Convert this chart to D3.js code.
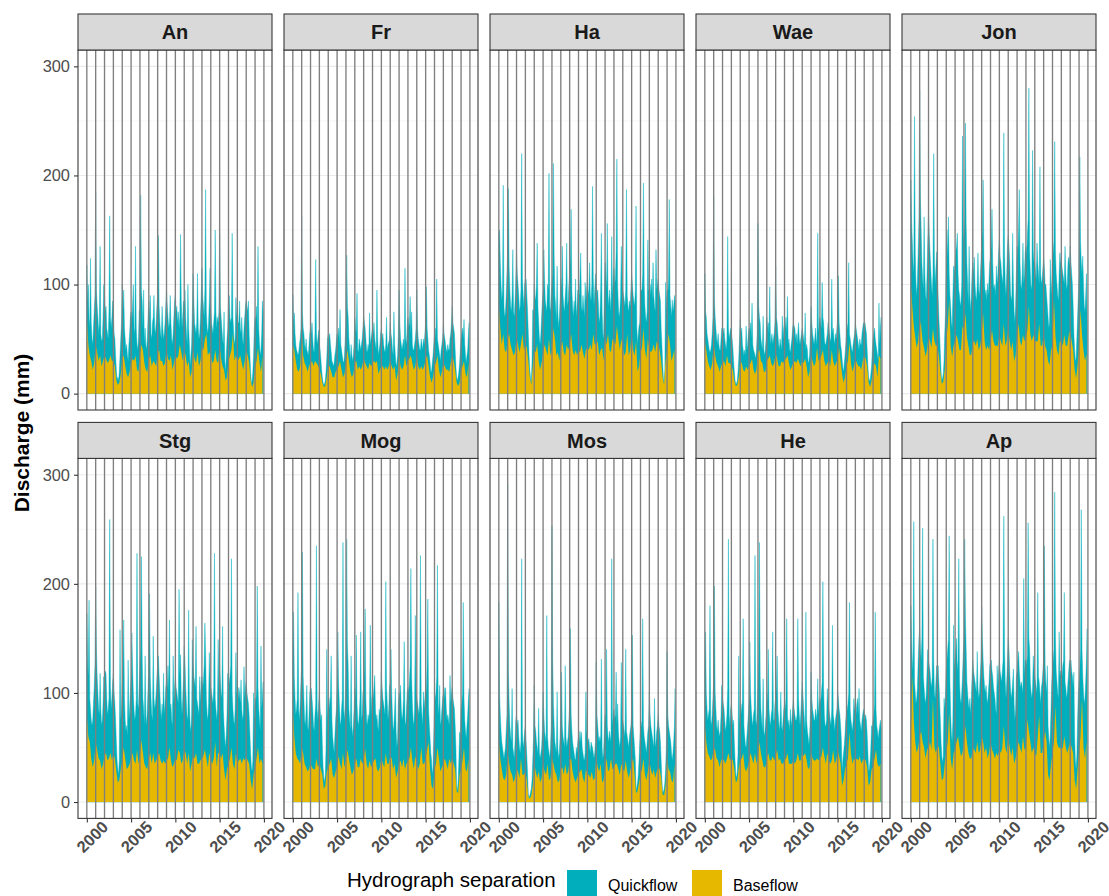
<!DOCTYPE html>
<html>
<head>
<meta charset="utf-8">
<script src="https://cdn.jsdelivr.net/npm/d3@7"></script>
<style>
  body { margin: 0; background: #fff; }
  svg { display: block; font-family: "Liberation Sans", Arial, Helvetica, sans-serif; }
</style>
</head>
<body>
<svg id="chart" width="1109" height="896"></svg>
<script>
// Catchments, in facet order
const sites = ["An", "Fr", "Ha", "Wae", "Jon", "Stg", "Mog", "Mos", "He", "Ap"];
const firstYear = 2000;
const nYears = 20;
const xTicks = [2000, 2005, 2010, 2015, 2020];
const yTicks = [0, 100, 200, 300];
const legendLabels = ["Quickflow", "Baseflow"];

// Monthly total discharge (mm), one row per year Jan..Dec, 2000-2019
const anDischarge = [
118,85,100,70,60,124,65,50,45,60,75,90,
185,95,80,70,55,65,135,55,48,50,70,100,
90,75,80,60,55,50,75,163,70,60,70,85,
70,55,50,35,22,12,15,12,20,35,50,65,
100,75,95,60,50,40,45,35,30,45,55,70,
75,65,80,100,60,55,135,60,45,40,50,75,
80,182,95,85,60,95,45,60,45,40,50,70,
85,70,90,55,50,65,70,90,60,55,65,80,
90,145,80,65,55,50,80,60,50,55,65,80,
95,80,70,60,65,90,65,50,45,55,70,85,
90,75,80,65,75,60,70,146,85,60,70,85,
80,95,70,55,45,100,60,45,25,35,45,75,
110,85,65,60,55,65,110,60,50,55,70,90,
115,90,80,70,95,187,75,60,55,65,85,115,
80,65,60,55,65,75,150,75,60,70,65,75,
147,80,70,60,50,45,75,30,20,35,50,60,
85,90,70,65,70,147,70,55,45,50,88,70,
75,65,65,85,60,55,70,50,45,60,70,80,
85,80,75,85,55,35,20,9,12,20,35,60,
70,65,80,60,135,60,45,35,40,55,85,75];
const frDischarge = [
91,65,74,55,45,40,38,35,38,45,50,60,
163,75,60,55,45,40,50,40,38,35,45,55,
60,55,65,50,40,38,55,123,55,45,50,58,
45,40,32,22,15,10,8,9,12,20,32,50,
54,50,55,45,38,30,28,25,28,35,40,48,
55,50,60,45,77,45,40,35,30,28,35,50,
65,127,80,70,50,40,30,45,35,30,35,45,
70,60,55,92,40,38,50,45,40,45,50,60,
71,65,60,50,40,38,45,40,74,45,50,55,
60,55,65,50,45,40,95,50,35,40,45,55,
60,50,55,45,40,38,45,70,40,45,47,50,
65,55,50,40,35,75,45,35,25,28,35,55,
95,65,50,45,40,45,50,40,115,50,45,60,
70,60,65,89,55,75,45,40,40,45,50,60,
95,60,50,45,40,40,50,45,40,50,45,55,
65,98,60,50,40,35,28,20,20,28,35,45,
55,60,50,105,50,45,40,35,30,40,45,50,
64,55,50,45,40,38,45,40,40,50,55,65,
80,65,60,55,40,25,15,12,15,20,28,40,
50,55,60,50,68,45,35,28,35,40,55,65];
const haDischarge = [
147,150,120,100,85,95,191,80,70,75,90,110,
130,188,115,95,80,75,90,132,75,70,85,105,
129,110,100,90,75,80,95,220,105,90,80,100,
105,105,90,75,55,35,22,14,10,30,77,75,
100,90,85,100,138,80,65,50,45,55,70,85,
95,132,105,85,80,75,100,95,202,80,75,90,
100,110,211,125,90,80,65,117,75,60,70,85,
105,95,135,90,80,75,90,100,138,80,85,100,
110,125,169,95,80,70,85,75,105,70,80,95,
95,90,105,129,80,75,90,80,70,102,85,95,
105,95,90,120,90,85,100,190,105,80,95,110,
100,92,95,80,65,70,95,147,75,55,50,90,
120,110,95,156,90,80,95,85,75,144,90,105,
115,100,105,130,215,100,80,70,75,90,135,105,
95,90,85,80,95,187,90,80,75,85,80,95,
110,100,90,85,80,95,172,60,45,55,62,65,
90,95,95,110,193,100,80,70,65,75,141,95,
95,100,90,105,85,120,90,80,75,132,95,100,
105,95,90,85,60,45,28,14,10,22,102,75,
95,90,105,178,90,80,70,86,75,80,90,83];
const waeDischarge = [
110,75,70,55,50,45,40,38,40,45,55,70,
181,85,70,60,50,45,55,45,40,40,50,60,
60,55,60,50,45,40,50,144,60,50,55,60,
55,50,42,30,20,12,9,9,12,20,32,50,
68,55,60,45,40,35,40,35,62,40,45,55,
60,55,65,50,83,45,40,38,35,32,40,55,
156,80,70,65,50,45,40,71,40,35,40,50,
70,60,65,55,98,45,50,55,45,50,55,65,
117,70,65,55,45,40,50,45,40,71,50,60,
65,60,70,55,89,45,50,40,38,45,50,60,
65,62,60,50,55,45,55,65,50,45,50,55,
60,55,50,45,74,40,45,40,28,30,35,55,
80,65,55,50,45,50,60,50,45,147,55,65,
70,65,60,102,70,65,50,45,45,50,55,65,
60,55,50,48,105,55,60,50,45,55,50,60,
70,108,65,55,45,40,32,24,20,28,35,45,
55,60,65,120,55,50,45,40,38,45,50,55,
65,60,55,50,45,40,50,45,45,55,60,65,
62,65,60,55,40,25,15,12,12,18,25,40,
50,55,60,50,45,40,35,30,83,45,60,70];
const jonDischarge = [
196,160,140,120,110,254,130,100,90,105,130,160,
278,180,150,120,105,95,162,110,90,85,110,140,
165,145,130,115,100,90,110,220,120,100,115,130,
110,90,70,55,38,20,12,14,18,30,55,75,
130,150,125,162,110,90,80,65,60,90,117,110,
120,130,135,147,110,95,90,80,85,100,236,140,
145,160,248,155,120,100,80,135,90,75,90,110,
120,110,125,100,90,85,100,129,95,90,105,120,
135,150,196,125,100,90,95,85,101,90,105,120,
125,135,169,120,100,95,100,90,117,100,110,130,
141,125,120,110,105,100,239,130,100,90,110,135,
145,135,120,95,85,90,147,100,75,65,80,110,
135,125,150,187,120,100,95,110,138,100,110,130,
135,125,145,160,280,130,110,95,100,223,130,120,
120,110,105,138,120,110,100,208,110,100,105,115,
125,115,100,100,90,80,70,60,65,123,90,100,
120,130,140,231,130,110,100,90,85,110,129,120,
120,115,110,105,100,135,110,95,100,120,125,117,
135,120,110,100,80,55,40,30,32,50,70,90,
110,217,140,120,110,126,100,80,75,90,110,60];
const stgDischarge = [
173,130,115,185,95,85,75,70,75,90,105,125,
198,140,115,100,85,80,118,85,70,75,90,115,
110,120,118,95,80,85,95,259,105,85,95,110,
118,100,90,75,55,38,30,25,38,158,75,85,
105,120,167,95,75,65,70,60,130,75,85,100,
115,155,125,100,85,75,80,95,228,90,85,105,
125,140,225,135,95,85,70,134,80,70,85,105,
125,191,115,95,80,75,152,95,85,90,100,115,
125,134,115,100,85,75,90,80,118,80,90,105,
110,105,125,100,167,85,90,75,70,134,90,105,
115,105,100,95,90,195,115,135,95,80,95,115,
143,130,105,90,75,80,176,90,70,65,80,149,
125,115,110,105,161,95,90,85,80,115,90,110,
115,105,110,125,164,135,95,80,75,90,137,110,
105,100,95,90,105,228,95,85,75,85,149,105,
125,110,100,95,161,85,70,58,50,62,80,118,
105,110,115,125,223,100,85,75,70,85,137,100,
100,95,105,100,90,112,85,75,80,124,95,105,
110,100,95,90,79,62,45,32,28,38,100,75,
95,90,105,198,105,85,75,65,143,85,95,110];
const mogDischarge = [
130,174,115,95,80,85,95,192,85,75,90,110,
125,229,115,95,75,70,85,107,70,65,80,100,
105,104,95,85,70,65,80,90,235,85,75,90,
100,85,75,80,52,32,22,18,25,50,140,75,
90,95,85,100,134,75,60,52,45,60,75,85,
105,156,110,90,75,70,85,95,238,85,75,90,
115,241,145,125,85,75,65,134,70,60,70,85,
105,95,153,90,75,70,80,95,156,75,80,100,
105,125,177,95,75,70,80,75,85,162,80,95,
100,95,105,116,85,75,80,70,65,85,80,95,
119,105,95,90,85,80,202,105,90,75,85,105,
110,140,100,80,65,70,85,104,65,50,58,90,
100,95,107,85,75,80,95,147,75,70,85,100,
105,100,110,125,214,115,90,75,70,85,171,100,
95,90,85,80,95,226,90,80,70,101,85,95,
105,100,125,186,85,70,58,45,38,25,32,60,
90,95,100,115,217,90,80,107,70,75,85,95,
100,95,105,104,85,75,80,75,70,116,90,100,
105,95,90,85,70,50,15,10,18,38,64,60,
85,90,100,183,95,75,65,58,70,80,95,104];
const mosDischarge = [
183,100,80,65,55,50,45,40,45,50,65,80,
292,120,90,70,60,55,104,50,45,40,55,75,
80,70,75,60,50,45,55,223,65,50,55,65,
70,55,42,25,7,4,6,9,12,20,38,60,
107,70,65,55,50,45,86,45,40,45,50,65,
101,80,65,60,55,171,60,50,45,40,50,70,
253,130,90,70,55,50,45,101,50,40,45,60,
80,119,70,60,55,50,125,60,50,55,60,75,
90,159,80,65,55,50,45,40,38,50,45,55,
60,55,65,55,64,50,45,40,38,45,101,65,
60,55,58,50,45,55,52,50,45,40,45,55,
128,80,70,60,55,60,55,131,50,40,45,65,
80,75,140,70,60,55,65,60,55,223,70,80,
85,75,80,119,70,90,65,55,50,60,128,75,
75,70,65,60,140,65,60,55,50,60,65,70,
80,153,70,60,50,38,10,14,18,25,38,55,
65,70,75,168,70,60,55,50,45,55,65,70,
101,80,70,65,60,55,50,95,50,55,65,70,
80,70,65,55,38,20,10,9,12,18,30,50,
138,80,70,65,60,55,45,38,45,55,70,104];
const heDischarge = [
120,156,100,85,75,80,85,180,75,70,80,95,
110,198,100,85,70,65,75,65,60,65,80,107,
95,90,85,75,65,70,80,105,241,80,70,85,
90,80,70,75,55,38,25,22,28,45,134,70,
85,90,80,95,168,70,60,52,50,60,70,80,
95,147,100,85,75,70,80,85,226,75,70,85,
105,135,238,115,85,75,65,113,65,60,70,80,
100,90,140,85,75,70,80,85,156,75,75,90,
95,105,134,85,75,65,75,101,70,65,75,85,
90,85,95,168,80,70,75,65,85,70,75,85,
95,85,80,75,75,80,168,95,80,70,80,95,
110,98,85,75,65,174,75,65,60,52,60,80,
119,95,85,80,75,75,85,80,75,113,80,90,
95,90,100,110,202,105,80,70,70,75,104,90,
85,80,75,70,85,162,80,75,65,75,80,85,
101,95,85,80,70,58,28,38,45,52,62,75,
80,85,90,100,183,85,75,70,65,75,95,85,
85,80,90,95,80,104,75,70,65,75,80,85,
80,75,80,75,62,45,28,30,38,50,70,68,
75,80,90,174,85,70,65,58,65,70,75,67];
const apDischarge = [
180,150,130,120,257,110,100,90,95,105,130,150,
160,140,130,150,251,115,105,95,90,100,120,140,
130,125,120,110,105,115,241,130,100,95,110,125,
120,125,110,95,75,55,42,36,42,95,85,100,
120,130,140,150,244,110,80,62,55,75,162,120,
130,140,150,120,130,223,110,95,90,100,115,135,
150,241,170,140,110,100,90,85,95,80,95,115,
130,120,115,110,105,100,138,105,95,100,115,130,
180,150,130,115,105,100,107,95,90,100,110,125,
128,130,120,115,105,100,95,85,80,125,105,120,
130,120,115,110,120,130,262,140,110,95,110,130,
150,140,120,105,95,100,110,122,90,75,85,115,
120,130,138,120,110,105,110,105,100,205,115,130,
130,125,135,256,150,140,110,100,95,105,134,120,
115,110,105,100,192,115,110,100,90,105,110,120,
130,235,125,110,100,125,70,58,50,62,85,110,
120,130,140,284,150,120,110,100,95,156,115,120,
120,115,125,130,192,110,105,95,100,110,120,130,
125,130,120,115,105,119,60,38,30,42,75,100,
110,120,140,268,140,115,100,90,95,110,130,159];

// Bi-monthly baseflow (mm), one row per year: Jan, Mar, May, Jul, Sep, Nov
const anBaseflow = [
68,45,35,30,22,28, 45,38,30,35,25,30, 35,32,28,30,35,30, 30,25,12,8,10,18,
32,35,25,18,15,20, 28,32,30,35,22,20, 35,45,40,28,22,20, 32,35,25,30,28,25,
38,40,30,30,25,28, 40,32,30,35,22,28, 35,32,35,45,38,30, 40,35,25,30,15,20,
40,32,28,38,25,30, 42,40,50,55,35,38, 35,28,30,40,30,28, 45,32,25,22,12,15,
30,35,40,55,30,35, 30,32,35,28,22,30, 40,35,28,12,6,10, 25,30,42,28,20,35];
const frBaseflow = [
45,40,30,22,20,25, 58,35,28,25,20,25, 28,30,25,30,28,26, 22,18,10,6,7,15,
25,25,20,15,15,20, 22,25,30,22,15,18, 28,40,30,20,15,18, 28,30,22,25,22,25,
32,28,25,22,28,25, 28,30,28,30,18,22, 25,25,22,25,22,25, 30,25,22,25,12,18,
35,25,22,25,35,25, 30,32,35,28,22,25, 35,25,22,25,22,25, 32,35,25,15,10,15,
25,28,35,22,15,20, 28,25,22,22,20,28, 35,30,22,10,7,10, 22,25,30,18,15,28];
const haBaseflow = [
80,60,45,55,40,38, 50,55,45,40,35,38, 50,45,38,45,55,40, 45,42,30,15,8,25,
40,38,45,30,22,28, 38,45,40,35,50,35, 40,60,50,35,38,30, 42,48,38,35,45,40,
45,55,40,35,40,35, 40,38,45,38,32,40, 42,40,45,40,55,45, 45,48,35,40,42,30,
50,45,55,40,38,50, 48,45,62,50,40,50, 42,35,38,55,35,40, 55,40,35,48,20,25,
38,42,60,40,32,50, 40,38,40,45,38,48, 45,40,30,15,8,30, 40,55,45,30,35,40];
const waeBaseflow = [
48,40,30,25,22,28, 45,35,28,25,20,25, 28,30,25,35,28,28, 25,22,12,7,8,15,
30,28,22,20,25,22, 25,28,32,22,18,22, 38,40,30,28,20,20, 30,32,35,28,25,28,
38,32,25,25,30,28, 30,32,35,28,22,25, 28,30,28,32,28,25, 30,28,32,25,15,20,
35,30,25,28,42,30, 32,35,40,30,25,28, 30,25,40,30,25,28, 32,42,30,18,10,15,
25,30,48,28,20,25, 32,28,25,25,22,30, 35,32,25,10,6,12, 22,28,25,15,35,32];
const jonBaseflow = [
100,80,62,52,42,48, 68,62,48,42,34,40, 52,48,42,60,48,44, 44,35,20,9,11,22,
48,62,86,44,34,44, 48,54,48,40,40,62, 58,74,52,44,35,36, 48,48,44,50,40,44,
54,74,48,40,44,40, 48,58,48,44,44,44, 54,48,44,64,44,48, 58,48,40,48,30,35,
52,64,48,44,54,48, 52,58,80,54,48,54, 48,48,48,64,44,44, 54,44,40,30,26,40,
44,86,52,40,35,48, 48,44,54,44,44,54, 58,48,40,22,14,26, 44,77,54,40,30,36];
const stgBaseflow = [
79,60,55,40,32,38, 55,48,40,38,30,35, 42,45,38,40,45,38, 45,40,28,18,20,30,
38,50,40,30,32,35, 40,45,38,35,48,35, 42,57,45,35,32,30, 40,45,35,45,35,38,
42,45,38,35,38,35, 38,40,50,38,32,35, 40,38,48,45,35,38, 48,45,35,45,28,35,
42,40,45,35,35,38, 40,42,48,40,32,45, 38,35,40,55,32,45, 45,40,45,30,20,30,
35,40,50,35,30,45, 35,38,40,35,40,38, 42,38,35,20,12,25, 32,40,50,35,40,35];
const mogBaseflow = [
83,60,45,40,38,35, 50,45,35,32,28,30, 35,32,30,30,40,32, 35,30,25,12,15,28,
32,35,40,25,22,28, 32,42,35,30,45,32, 38,48,40,32,25,28, 35,40,32,32,40,35,
38,49,35,30,38,32, 35,38,40,30,28,32, 40,35,32,45,35,35, 42,40,30,35,22,28,
35,38,32,40,30,35, 38,40,50,38,30,42, 35,30,35,50,35,35, 40,48,55,30,15,12,
30,35,50,40,28,32, 35,40,35,30,40,35, 40,35,30,10,8,25, 30,38,50,30,28,40];
const mosBaseflow = [
55,40,30,22,20,25, 45,35,28,25,18,22, 30,28,22,40,25,25, 28,20,5,3,6,15,
35,28,22,28,18,22, 35,28,25,35,20,22, 40,35,28,25,18,20, 30,32,25,35,25,28,
38,40,28,22,18,22, 25,28,30,22,18,30, 25,25,22,28,20,22, 40,32,28,35,18,20,
30,40,28,30,40,30, 32,35,35,30,25,35, 30,28,38,28,22,28, 35,40,25,8,10,18,
25,30,40,25,20,28, 38,30,25,30,22,28, 32,30,22,7,6,15, 40,30,28,20,18,35];
const heBaseflow = [
70,55,45,42,38,40, 50,48,40,38,32,38, 40,38,35,40,45,38, 40,38,30,18,20,32,
38,40,45,32,28,32, 38,45,40,35,45,35, 42,55,45,38,32,32, 40,45,38,38,42,38,
42,48,38,40,35,35, 38,40,45,35,35,35, 38,35,38,45,38,38, 45,42,45,38,30,32,
45,40,38,38,40,38, 40,42,50,42,35,45, 38,35,38,48,35,38, 48,42,35,15,20,30,
35,40,64,45,35,40, 38,40,38,42,35,38, 40,38,32,15,18,30, 32,40,48,35,32,35];
const apBaseflow = [
60,116,75,55,45,50, 60,65,55,50,40,48, 50,55,48,95,50,45, 52,50,35,20,22,35,
45,55,82,40,30,45, 48,55,60,50,42,45, 55,70,55,45,40,40, 50,48,45,55,45,48,
61,55,45,50,40,45, 55,48,45,40,45,42, 48,45,50,70,50,45, 60,50,42,50,35,40,
48,55,50,45,60,48, 50,76,65,55,45,50, 45,42,60,79,45,45, 55,65,55,25,20,35,
45,55,88,55,50,50, 48,50,60,50,45,50, 55,50,45,20,12,30, 45,60,95,50,40,55];

const dischargeBySite = {
  An: anDischarge, Fr: frDischarge, Ha: haDischarge, Wae: waeDischarge, Jon: jonDischarge,
  Stg: stgDischarge, Mog: mogDischarge, Mos: mosDischarge, He: heDischarge, Ap: apDischarge
};
const baseflowBySite = {
  An: anBaseflow, Fr: frBaseflow, Ha: haBaseflow, Wae: waeBaseflow, Jon: jonBaseflow,
  Stg: stgBaseflow, Mog: mogBaseflow, Mos: mosBaseflow, He: heBaseflow, Ap: apBaseflow
};

const colors = { Quickflow: "#00AFBB", Baseflow: "#E7B800" };

// ---- layout ----
const panelW = 194, panelH = 360, stripH = 36;
const colLeft = [78, 284, 490, 696, 902];
const rowTop = [14, 422.4];
const tickFont = 16.4;

// time in decimal years; 5% expansion on both axes
const tStart = firstYear, tEnd = firstYear + nYears - 1 / 12;
const xPad = (tEnd - tStart) * 0.05;
const x = d3.scaleLinear().domain([tStart - xPad, tEnd + xPad]).range([0, panelW]);
const yMax = 300;
const y = d3.scaleLinear().domain([-0.05 * yMax, 1.05 * yMax]).range([panelH, 0]);

const svg = d3.select("#chart");
const defs = svg.append("defs");

const areaFromZero = d3.area().x(d => x(d.t)).y0(y(0)).y1(d => y(d.v));
const yearLines = d3.range(firstYear, firstYear + nYears + 1);

sites.forEach((site, i) => {
  const col = i % 5, row = Math.floor(i / 5);
  const left = colLeft[col], top = rowTop[row] + stripH;

  const dis = dischargeBySite[site].map((v, k) => ({ t: firstYear + k / 12, v }));
  const base = baseflowBySite[site].map((v, k) => ({ t: firstYear + k / 6, v }));

  const g = svg.append("g").attr("transform", `translate(${left},${top})`);
  const clipId = "clip-" + site;
  defs.append("clipPath").attr("id", clipId)
    .append("rect").attr("width", panelW).attr("height", panelH);

  // grid
  const grid = g.append("g");
  const minorY = [50, 150, 250];
  grid.selectAll(".gmy").data(minorY).join("line")
    .attr("x1", 0).attr("x2", panelW).attr("y1", d => y(d)).attr("y2", d => y(d))
    .attr("stroke", "#f0f0f0").attr("stroke-width", 0.55);
  grid.selectAll(".gy").data(yTicks).join("line")
    .attr("x1", 0).attr("x2", panelW).attr("y1", d => y(d)).attr("y2", d => y(d))
    .attr("stroke", "#ebebeb").attr("stroke-width", 1.1);

  const plot = g.append("g").attr("clip-path", `url(#${clipId})`);
  // total discharge in teal; the part above baseflow reads as quickflow
  plot.append("path").datum(dis).attr("d", areaFromZero)
    .attr("fill", colors.Quickflow)
    .attr("stroke", colors.Quickflow).attr("stroke-width", 0.7)
    .attr("stroke-opacity", 0.6).attr("stroke-linejoin", "round");
  plot.append("path").datum(base).attr("d", areaFromZero).attr("fill", colors.Baseflow);

  // annual markers
  plot.selectAll(".yl").data(yearLines).join("line")
    .attr("x1", d => x(d)).attr("x2", d => x(d)).attr("y1", 0).attr("y2", panelH)
    .attr("stroke", "#7f7f7f").attr("stroke-width", 1.35);

  // panel border
  g.append("rect").attr("width", panelW).attr("height", panelH)
    .attr("fill", "none").attr("stroke", "#333333").attr("stroke-width", 1.07);

  // strip
  const strip = svg.append("g").attr("transform", `translate(${left},${rowTop[row]})`);
  strip.append("rect").attr("width", panelW).attr("height", stripH)
    .attr("fill", "#d9d9d9").attr("stroke", "#333333").attr("stroke-width", 1.07);
  strip.append("text").attr("x", panelW / 2).attr("y", stripH / 2)
    .attr("dy", "0.36em").attr("text-anchor", "middle")
    .attr("font-size", 20).attr("font-weight", "bold").attr("fill", "#1a1a1a")
    .text(site);

  // y axis on first column
  if (col === 0) {
    const ax = g.append("g").call(d3.axisLeft(y).tickValues(yTicks).tickSize(4).tickPadding(4).tickFormat(d3.format("d")));
    ax.select(".domain").remove();
    ax.selectAll(".tick line").attr("stroke", "#333333").attr("stroke-width", 1.07);
    ax.selectAll(".tick text").attr("fill", "#4d4d4d").attr("font-size", tickFont)
      .attr("font-family", "Liberation Sans, Arial, sans-serif");
  }
  // x axis on bottom row
  if (row === 1) {
    const ax = g.append("g").attr("transform", `translate(0,${panelH})`)
      .call(d3.axisBottom(x).tickValues(xTicks).tickSize(4).tickFormat(d3.format("d")));
    ax.select(".domain").remove();
    ax.selectAll(".tick line").attr("stroke", "#333333").attr("stroke-width", 1.07);
    ax.selectAll(".tick text")
      .attr("x", 0).attr("y", 0).attr("dy", "0.35em")
      .attr("text-anchor", "middle")
      .attr("transform", "translate(5,18.5) rotate(-45)")
      .attr("fill", "#4d4d4d").attr("font-size", tickFont).attr("font-weight", "bold")
      .attr("font-family", "Liberation Sans, Arial, sans-serif");
  }
});

// y-axis title
svg.append("text")
  .attr("transform", "translate(29,433) rotate(-90)")
  .attr("text-anchor", "middle")
  .attr("font-size", 21).attr("font-weight", "bold").attr("fill", "#000")
  .text("Discharge (mm)");

// legend
const legend = svg.append("g");
legend.append("text").attr("x", 347).attr("y", 887)
  .attr("font-size", 20.5).attr("fill", "#000").text("Hydrograph separation");
const keyX = [567, 692];
legendLabels.forEach((lab, i) => {
  legend.append("rect").attr("x", keyX[i]).attr("y", 870).attr("width", 30).attr("height", 30)
    .attr("fill", colors[lab]);
  legend.append("text").attr("x", keyX[i] + 41).attr("y", 891)
    .attr("font-size", 16).attr("fill", "#000").text(lab);
});
</script>
</body>
</html>
